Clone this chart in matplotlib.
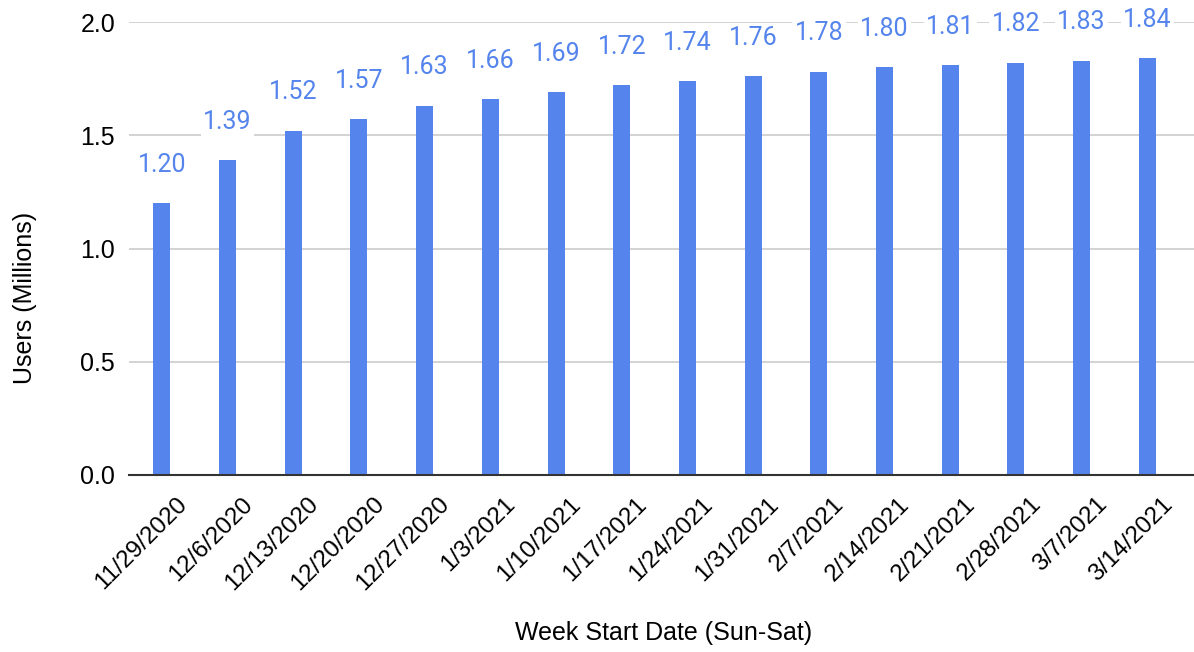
import matplotlib
matplotlib.use("Agg")
import matplotlib.pyplot as plt
from matplotlib.transforms import ScaledTranslation

weeks = ["11/29/2020", "12/6/2020", "12/13/2020", "12/20/2020", "12/27/2020",
         "1/3/2021", "1/10/2021", "1/17/2021", "1/24/2021", "1/31/2021",
         "2/7/2021", "2/14/2021", "2/21/2021", "2/28/2021", "3/7/2021", "3/14/2021"]
users = [1.20, 1.39, 1.52, 1.57, 1.63, 1.66, 1.69, 1.72, 1.74, 1.76,
         1.78, 1.80, 1.81, 1.82, 1.83, 1.84]
yticks = [0.0, 0.5, 1.0, 1.5, 2.0]

bar_color = "#5484ec"
label_color = "#5484ec"

plt.rcParams['font.family'] = ['Liberation Sans', 'DejaVu Sans']

fig = plt.figure(figsize=(11.94, 6.52), dpi=100)
ax = fig.add_axes([129/1194, (652-475)/652, 1 - 129/1194, (475-22)/652])

x = list(range(len(weeks)))
ax.bar(x, users, width=0.26, color=bar_color, zorder=3)

for xi, v in zip(x, users):
    ax.annotate(f"{v:.2f}", (xi, v), xytext=(0, 19), textcoords="offset points",
                ha="center", va="bottom", fontsize=18, color=label_color,
                family=["Roboto", "DejaVu Sans"], zorder=4, annotation_clip=False,
                bbox=dict(boxstyle="square,pad=0.1", fc="white", ec="none"))

ax.set_xlim(-0.5, 15.71)
ax.set_ylim(0, 2.0)
ax.set_yticks(yticks)
ax.set_yticklabels([f"{t:.1f}" for t in yticks], fontsize=18)
ax.set_xticks(x)
ax.set_xticklabels(weeks, rotation=45, ha="right", va="top",
                   rotation_mode="anchor", fontsize=17.5)
ax.tick_params(axis="both", length=0)
ax.tick_params(axis="y", pad=10)
ax.tick_params(axis="x", pad=13)
shift = ScaledTranslation(14/100, 0, fig.dpi_scale_trans)
for lbl in ax.get_xticklabels():
    lbl.set_transform(lbl.get_transform() + shift)

ax.grid(axis="y", color="#cccccc", linewidth=1.2, zorder=0)
for s in ["top", "right", "left"]:
    ax.spines[s].set_visible(False)
ax.spines["bottom"].set_color("#333333")
ax.spines["bottom"].set_linewidth(1.5)
ax.spines["bottom"].set_zorder(5)

fig.text(25/1194, 1 - 298/652, "Users (Millions)", rotation=90, ha="center",
         va="center", fontsize=18)
fig.text(664/1194, 1 - 633/652, "Week Start Date (Sun-Sat)", ha="center",
         va="center", fontsize=18)

fig.savefig("out.png", dpi=100)
